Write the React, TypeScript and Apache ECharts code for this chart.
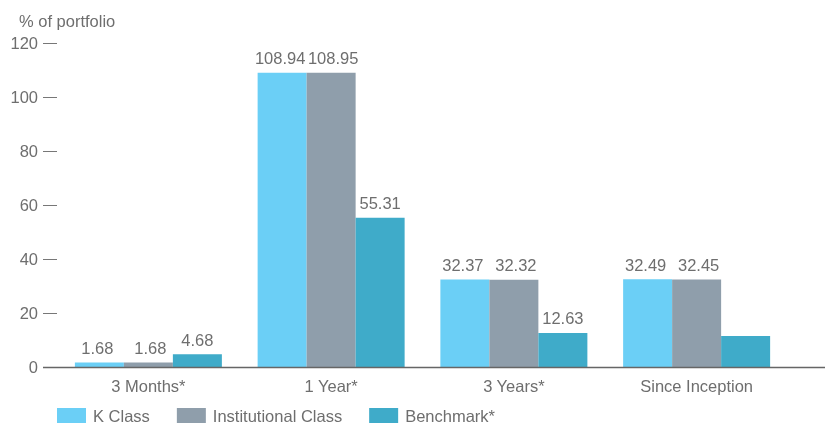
import React, { useEffect, useRef } from "react";
import * as echarts from "echarts";

const categories = ["3 Months*", "1 Year*", "3 Years*", "Since Inception"];
const kClass = [1.68, 108.94, 32.37, 32.49];
const institutional = [1.68, 108.95, 32.32, 32.45];
const benchmark = [4.68, 55.31, 12.63, 11.5];
const benchmarkLabelHidden = [false, false, false, true];
const seriesNames = ["K Class", "Institutional Class", "Benchmark*"];
const colors = ["#6bcff6", "#8f9eab", "#3fabc9"];
const yTicks = { min: 0, max: 120, interval: 20 };

const FONT = "'Liberation Sans', Arial, Helvetica, sans-serif";
const TEXT = "#6e6e6e";
const FS = 16.5;

export default function App() {
  const ref = useRef<HTMLDivElement>(null);
  useEffect(() => {
    if (!ref.current) return;
    const chart = echarts.init(ref.current, undefined, { renderer: "svg" });
    const label = {
      show: true,
      position: "top",
      distance: 6,
      color: TEXT,
      fontSize: FS,
      fontFamily: FONT,
    };
    const mk = (name: string, data: any[], color: string, shift: number) => ({
      name,
      type: "bar",
      data,
      barWidth: 49,
      barGap: "0%",
      itemStyle: { color },
      label: { ...label, offset: [shift, 0] },
    });
    chart.setOption({
      animation: false,
      textStyle: { fontFamily: FONT },
      grid: { left: 57, right: 37, top: 43, bottom: 57, containLabel: false },
      xAxis: {
        type: "category",
        data: categories,
        axisLine: { show: false },
        axisTick: { show: false },
        axisLabel: { color: TEXT, fontSize: FS, fontFamily: FONT, margin: 10 },
      },
      yAxis: {
        type: "value",
        min: yTicks.min,
        max: yTicks.max,
        interval: yTicks.interval,
        splitLine: { show: false },
        axisLine: { show: false },
        axisTick: { show: true, length: 14, lineStyle: { color: "#777", width: 1 } },
        axisLabel: { color: TEXT, fontSize: FS, fontFamily: FONT, margin: 19 },
      },
      legend: {
        data: seriesNames,
        left: 57,
        top: 407,
        padding: 0,
        itemWidth: 29,
        itemHeight: 15,
        itemGap: 27,
        icon: "rect",
        textStyle: { color: TEXT, fontSize: FS, fontFamily: FONT, padding: [0, 0, 0, 2] },
      },
      graphic: [
        {
          type: "text",
          left: 19,
          top: 12,
          style: { text: "% of portfolio", fill: TEXT, fontSize: FS, fontFamily: FONT },
        },
        {
          type: "line",
          shape: { x1: 43, y1: 367.5, x2: 825, y2: 367.5 },
          style: { stroke: "#666", lineWidth: 1.5 },
          z: 10,
        },
      ],
      series: [
        mk(seriesNames[0], kClass, colors[0], -2),
        mk(seriesNames[1], institutional, colors[1], 2),
        mk(
          seriesNames[2],
          benchmark.map((v, i) => (benchmarkLabelHidden[i] ? { value: v, label: { show: false } } : v)),
          colors[2],
          0
        ),
      ],
    });
    return () => chart.dispose();
  }, []);
  return (
    <div
      ref={ref}
      style={{ position: "fixed", left: 0, top: 0, width: 825, height: 424 }}
    />
  );
}
